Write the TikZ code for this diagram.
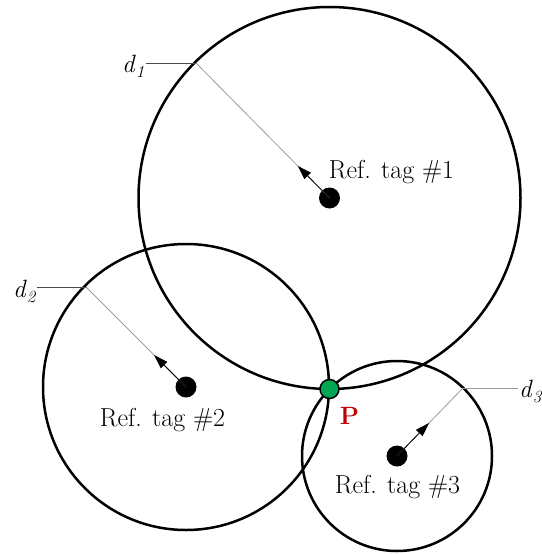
\documentclass[tikz,border=0pt]{standalone}
\usepackage{fontspec}
\usetikzlibrary{arrows.meta,calc}
\definecolor{pgreen}{RGB}{0,166,81}
\definecolor{pred}{RGB}{192,0,0}
\definecolor{leadgray}{RGB}{155,155,155}
\newcommand{\dsub}[1]{\textit{d}\raisebox{-0.22em}{\fontsize{17}{19}\selectfont\itshape #1}}
\begin{document}
\begin{tikzpicture}[x=1pt,y=-1pt,
  rangecircle/.style={line width=2.5pt},
  tagdot/.style={circle,fill=black,inner sep=0pt,minimum size=21pt},
  radiusline/.style={leadgray,line width=0.8pt},
  leaderline/.style={black!70,line width=0.7pt},
  arrowseg/.style={line width=0.8pt,-{Triangle[length=14pt,width=9pt]}},
  taglab/.style={font=\fontsize{26}{30}\selectfont,anchor=base,inner sep=0pt},
  dlab/.style={font=\fontsize{25}{28}\selectfont,anchor=base west,inner sep=1pt}]
\useasboundingbox (0,0) rectangle (541,554);
% centres
\node[tagdot] (t1) at (329.5,198) {};
\node[tagdot] (t2) at (186,387) {};
\node[tagdot] (t3) at (397,456) {};
% range circles
\draw[rangecircle] (t1.center) circle (191);
\draw[rangecircle] (t2.center) circle (143);
\draw[rangecircle] (t3.center) circle (95);
% points on circles
\coordinate (c1) at (196,63);
\coordinate (c2) at (86,287);
\coordinate (c3) at (463,388);
% radius lines
\draw[radiusline] (c1) -- (t1.center);
\draw[radiusline] (c2) -- (t2.center);
\draw[radiusline] (c3) -- (t3.center);
% arrows
\draw[arrowseg] (t1.center) -- ($(t1.center)!45pt!(c1)$);
\draw[arrowseg] (t2.center) -- ($(t2.center)!45pt!(c2)$);
\draw[arrowseg] (t3.center) -- ($(t3.center)!46pt!(c3)$);
% distance labels
\node[dlab] (d1) at (121,72) {\dsub{1}};
\node[dlab] (d2) at (12,297) {\dsub{2}};
\node[dlab] (d3) at (518,397) {\dsub{3}};
\draw[leaderline] (d1.east |- c1) -- (c1);
\draw[leaderline] (d2.east |- c2) -- (c2);
\draw[radiusline] (c3) -- (d3.west |- c3);
% tag labels
\node[taglab] (l1) at (391.5,178) {Ref. tag \#1};
\node[taglab] (l2) at (162.5,426) {Ref. tag \#2};
\node[taglab] (l3) at (397.5,493) {Ref. tag \#3};
% intersection point
\node[circle,draw=black,fill=pgreen,line width=1.5pt,inner sep=0pt,minimum size=19pt] (p) at (329.5,389) {};
\node[font=\fontsize{25}{28}\selectfont\bfseries,text=pred,anchor=base,inner sep=0pt] (pl) at (349.5,424) {P};
\end{tikzpicture}
\end{document}
